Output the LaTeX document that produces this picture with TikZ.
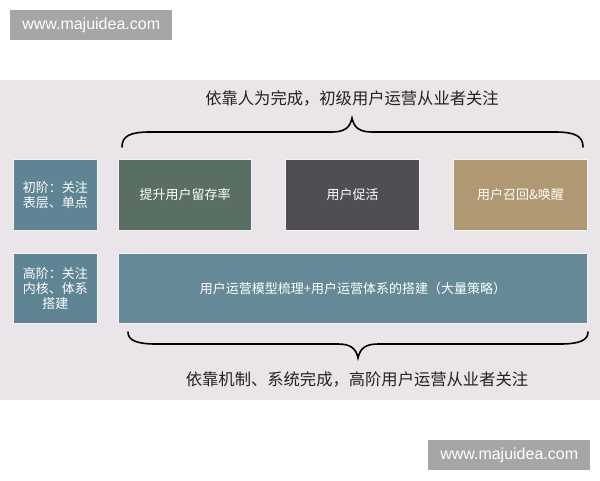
\documentclass[tikz,border=0pt]{standalone}
\usepackage{fontspec}
\setmainfont{Liberation Sans}
\newfontfamily\cjk{Noto Sans CJK SC}
\definecolor{bandbg}{HTML}{E9E5E9}
\definecolor{steel}{HTML}{5F8595}
\definecolor{bigsteel}{HTML}{658996}
\definecolor{greengray}{HTML}{596F64}
\definecolor{darkgray}{HTML}{514D54}
\definecolor{tan}{HTML}{B09872}
\definecolor{wmgray}{HTML}{A6A6A6}
\definecolor{edge}{HTML}{F4F2F4}
\definecolor{captxt}{HTML}{222222}
\tikzset{
  card/.style={draw=edge, line width=1pt, inner sep=0pt, anchor=north west,
    text=white, font=\cjk\fontsize{13}{15}\selectfont, align=center},
  caption/.style={text=captxt, font=\cjk\fontsize{16.3}{19}\selectfont, inner sep=0pt},
  watermark/.style={fill=wmgray, text=white, inner sep=0pt, anchor=north west,
    font=\fontsize{16}{18}\selectfont},
  bracestroke/.style={draw=black, line width=1.6pt, line cap=round}
}
\begin{document}
\begin{tikzpicture}[x=1pt,y=-1pt]
\useasboundingbox (0,0) rectangle (600,480);
\fill[white] (0,0) rectangle (600,480);
% grey band
\fill[bandbg] (0,80) rectangle (600,400);
% watermarks
\node[watermark, minimum width=162pt, minimum height=30pt] (wm1) at (10,10) {www.majuidea.com};
\node[watermark, minimum width=162pt, minimum height=30pt] (wm2) at (428,440) {www.majuidea.com};
% top caption
\node[caption] (topcap) at (352,98) {依靠人为完成，初级用户运营从业者关注};
% top brace
\coordinate (tbL) at (122,147);
\coordinate (tbT) at (352,118);
\coordinate (tbR) at (583,147);
\draw[bracestroke] (tbL) .. controls (122,136) and (130,132) .. (150,132)
  -- (332,132) .. controls (344,132) and (350,128) .. (tbT)
  .. controls (354,128) and (360,132) .. (372,132)
  -- (555,132) .. controls (575,132) and (583,136) .. (tbR);
% row 1
\node[card, fill=steel, minimum width=84pt, minimum height=71pt] (lab1) at (13,159) {初阶：关注\\表层、单点};
\node[card, fill=greengray, minimum width=133pt, minimum height=71pt] (b1) at (118,159) {提升用户留存率};
\node[card, fill=darkgray, minimum width=134pt, minimum height=71pt] (b2) at (285,159) {用户促活};
\node[card, fill=tan, minimum width=134pt, minimum height=71pt] (b3) at (453,159) {用户召回\&唤醒};
% row 2
\node[card, fill=steel, minimum width=84pt, minimum height=70pt] (lab2) at (13,253) {高阶：关注\\内核、体系\\搭建};
\node[card, fill=bigsteel, minimum width=469pt, minimum height=70pt] (big) at (118,253) {用户运营模型梳理+用户运营体系的搭建（大量策略）};
% bottom brace
\coordinate (bbL) at (128,332);
\coordinate (bbT) at (358,358);
\coordinate (bbR) at (588,332);
\draw[bracestroke] (bbL) .. controls (128,340) and (136,344) .. (156,344)
  -- (338,344) .. controls (350,344) and (356,348) .. (bbT)
  .. controls (360,348) and (366,344) .. (378,344)
  -- (560,344) .. controls (580,344) and (588,340) .. (bbR);
% bottom caption
\node[caption] (botcap) at (357,379) {依靠机制、系统完成，高阶用户运营从业者关注};
\end{tikzpicture}
\end{document}
